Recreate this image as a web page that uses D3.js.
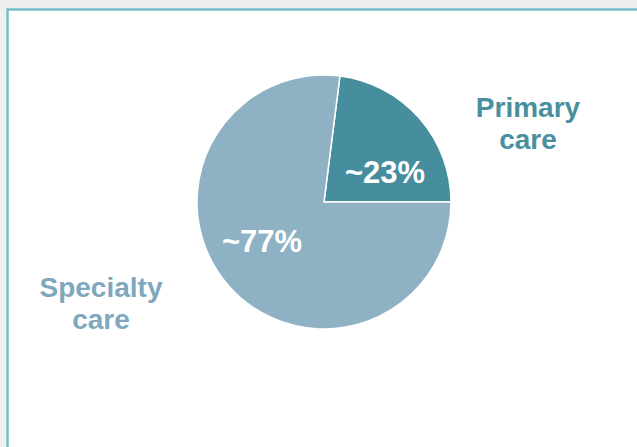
<!DOCTYPE html>
<html>
<head>
<meta charset="utf-8">
<script src="https://cdn.jsdelivr.net/npm/d3@7"></script>
<style>
  html, body { margin: 0; padding: 0; background: #ffffff; overflow: hidden; }
  svg { display: block; }
</style>
</head>
<body>
<script>
// care split
var categories = ["Primary care", "Specialty care"];
var shares = [23, 77];
var shareLabels = ["~23%", "~77%"];
var nameLines = [["Primary", "care"], ["Specialty", "care"]];

function draw() {
    var w = 637;
    var h = 447;
    var svg = d3.select("body")
        .append("svg")
        .attr("width", w)
        .attr("height", h);

    // grey page, white panel with teal border on top and left only
    svg.append("rect")
        .attr("width", w)
        .attr("height", h)
        .attr("fill", "#efefef");
    svg.append("rect")
        .attr("x", 7)
        .attr("y", 9)
        .attr("width", w)
        .attr("height", h)
        .attr("fill", "#ffffff");
    svg.append("path")
        .attr("d", "M7.5," + h + "V9.5H" + w)
        .attr("fill", "none")
        .attr("stroke", "#79bccb")
        .attr("stroke-width", 2.5);

    var cx = 324, cy = 202;
    var radius = 127;
    var color = d3.scaleOrdinal().domain(categories).range(["#468d9e", "#8eb1c4"]);
    var textColor = d3.scaleOrdinal().domain(categories).range(["#4a8fa0", "#7fa8bf"]);

    // primary slice ends at 3 o'clock
    var start = Math.PI / 2 - 2 * Math.PI * shares[0] / d3.sum(shares);
    var pie = d3.pie().sort(null).startAngle(start).endAngle(start + 2 * Math.PI);
    var arc = d3.arc().innerRadius(0).outerRadius(radius);

    var g = svg.append("g").attr("transform", "translate(" + cx + "," + cy + ")");
    var arcs = g.selectAll("g.arc")
        .data(pie(shares))
        .enter()
        .append("g")
        .attr("class", "arc");

    arcs.append("path")
        .attr("d", arc)
        .attr("fill", function(d, i) { return color(categories[i]); })
        .attr("stroke", "#ffffff")
        .attr("stroke-width", 1.5);

    // percentage labels inside slices
    var pctOffsets = [[61, -19], [-62, 50]];
    arcs.append("text")
        .text(function(d, i) { return shareLabels[i]; })
        .attr("x", function(d, i) { return pctOffsets[i][0]; })
        .attr("y", function(d, i) { return pctOffsets[i][1]; })
        .attr("text-anchor", "middle")
        .attr("fill", "#ffffff")
        .attr("font-family", "Arial, 'Liberation Sans', sans-serif")
        .attr("font-weight", "bold")
        .attr("font-size", 31);

    // category names outside
    var namePos = [[528, 117], [101, 297]];
    nameLines.forEach(function(lines, i) {
        var t = svg.append("text")
            .attr("text-anchor", "middle")
            .attr("fill", textColor(categories[i]))
            .attr("font-family", "Arial, 'Liberation Sans', sans-serif")
            .attr("font-weight", "bold")
            .attr("font-size", 28);
        lines.forEach(function(line, j) {
            t.append("tspan")
                .attr("x", namePos[i][0])
                .attr("y", namePos[i][1] + j * 32)
                .text(line);
        });
    });
}
window.onload = draw;
</script>
</body>
</html>
